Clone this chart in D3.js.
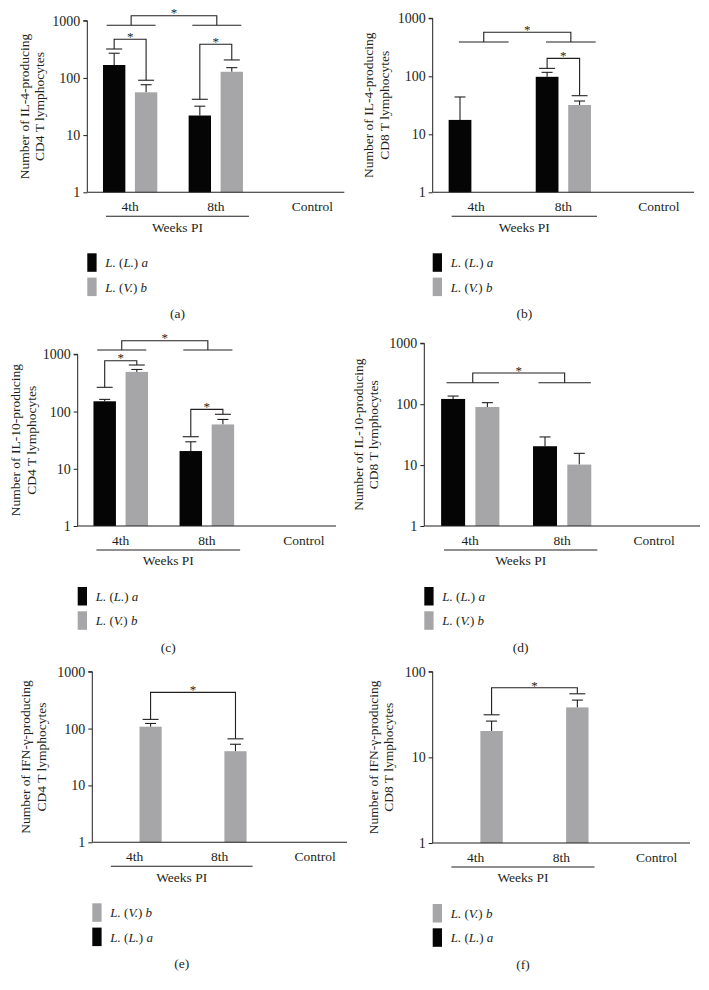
<!DOCTYPE html>
<html><head><meta charset="utf-8">
<script src="https://cdn.jsdelivr.net/npm/d3@7"></script>
<style>
body{margin:0;background:#fff}
svg{display:block}
text{font-family:"Liberation Serif","Times New Roman",serif;fill:#231f20}
</style>
</head><body>
<svg id="chart" width="709" height="990"></svg>
<script>
// ---------- data ----------
const weeks = ["4th", "8th", "Control"];
const seriesKeys = ["La", "Vb"];
const seriesLabels = { La: "L. (L.) a", Vb: "L. (V.) b" };
const ticks3 = [1, 10, 100, 1000];
const ticks2 = [1, 10, 100];

// (a) IL-4 CD4
const aLa = [168, 22, null], aLaErr = [270, 32, null];
const aVb = [56, 128, null], aVbErr = [76, 151, null];
// pair brackets: [week1, series1, level1, week2, series2, level2, topLevel]
const aPairs = [["4th", "La", 320, "4th", "Vb", 91, 473], ["8th", "La", 42.3, "8th", "Vb", 206, 387]];
const aGroup = [832, 1223];

// (b) IL-4 CD8
const bLa = [17.7, 98, null], bLaErr = [44, 117, null];
const bVb = [null, 32, null], bVbErr = [null, 37.5, null];
const bPairs = [["8th", "La", 137, "8th", "Vb", 46.3, 204]];
const bGroup = [390, 574];

// (c) IL-10 CD4
const cLa = [151, 20.4, null], cLaErr = [163, 29.6, null];
const cVb = [493, 59.5, null], cVbErr = [543, 72.8, null];
const cPairs = [["4th", "La", 265, "4th", "Vb", 650, 773], ["8th", "La", 36.3, "8th", "Vb", 89.5, 109]];
const cGroup = [1189, 1730];

// (d) IL-10 CD8
const dLa = [122, 20.4, null], dLaErr = [136, 29, null];
const dVb = [90, 10.2, null], dVbErr = [106, 15.6, null];
const dPairs = [];
const dGroup = [225, 325];

// (e) IFN-γ CD4
const eLa = [null, null, null], eLaErr = [null, null, null];
const eVb = [108, 40, null], eVbErr = [123, 53, null];
const ePairs = [["4th", "Vb", 145, "8th", "Vb", 66, 433]];
const eGroup = null;

// (f) IFN-γ CD8
const fLa = [null, null, null], fLaErr = [null, null, null];
const fVb = [20.3, 38.3, null], fVbErr = [26.5, 46.6, null];
const fPairs = [["4th", "Vb", 31.4, "8th", "Vb", 55.2, 64.9]];
const fGroup = null;

// ---------- layout / style ----------
const colors = { La: "#050505", Vb: "#a6a6a8" };
const ink = "#231f20";
const panels = [
  { cap: "(a)", La: aLa, LaE: aLaErr, Vb: aVb, VbE: aVbErr, pairs: aPairs, group: aGroup, ticks: ticks3,
    ylab: ["Number of IL-4-producing", "CD4 T lymphocytes"], legend: ["La", "Vb"],
    L: { ax: 87.3, top: 20.7, bot: 192.3, xe: 344.3, l1: 24, l2: 39.5, cdx: 11, gdx: 1 } },
  { cap: "(b)", La: bLa, LaE: bLaErr, Vb: bVb, VbE: bVbErr, pairs: bPairs, group: bGroup, ticks: ticks3,
    ylab: ["Number of IL-4-producing", "CD8 T lymphocytes"], legend: ["La", "Vb"],
    L: { ax: 432.7, top: 18.3, bot: 192.3, xe: 694, l1: 368.5, l2: 384, cdx: 8.5, gdx: 7.5 } },
  { cap: "(c)", La: cLa, LaE: cLaErr, Vb: cVb, VbE: cVbErr, pairs: cPairs, group: cGroup, ticks: ticks3,
    ylab: ["Number of IL-10-producing", "CD4 T lymphocytes"], legend: ["La", "Vb"],
    L: { ax: 77.7, top: 354.3, bot: 526, xe: 336, l1: 15.5, l2: 31.5, cdx: 11, gdx: 1 } },
  { cap: "(d)", La: dLa, LaE: dLaErr, Vb: dVb, VbE: dVbErr, pairs: dPairs, group: dGroup, ticks: ticks3,
    ylab: ["Number of IL-10-producing", "CD8 T lymphocytes"], legend: ["La", "Vb"],
    L: { ax: 424.3, top: 343.3, bot: 526, xe: 700, l1: 358.5, l2: 373, cdx: 0, gdx: 2.5 } },
  { cap: "(e)", La: eLa, LaE: eLaErr, Vb: eVb, VbE: eVbErr, pairs: ePairs, group: eGroup, ticks: ticks3,
    ylab: ["Number of IFN-\u03b3-producing", "CD4 T lymphocytes"], legend: ["Vb", "La"],
    L: { ax: 92.3, top: 671.7, bot: 842.3, xe: 347, l1: 25, l2: 41, cdx: 10.5, gdx: 0 } },
  { cap: "(f)", La: fLa, LaE: fLaErr, Vb: fVb, VbE: fVbErr, pairs: fPairs, group: fGroup, ticks: ticks2,
    ylab: ["Number of IFN-\u03b3-producing", "CD8 T lymphocytes"], legend: ["Vb", "La"],
    L: { ax: 432.7, top: 671.7, bot: 843, xe: 690, l1: 373.3, l2: 388.7, cdx: 9.6, gdx: 0 } }
];

const svg = d3.select("#chart");
const FS = 13.5;

function legendText(sel, key) {
  const parts = key === "La"
    ? [["L.", 1], [" (", 0], ["L.", 1], [") ", 0], ["a", 1]]
    : [["L.", 1], [" (", 0], ["V.", 1], [") ", 0], ["b", 1]];
  sel.selectAll("tspan").data(parts).join("tspan")
    .attr("font-style", d => d[1] ? "italic" : "normal")
    .text(d => d[0]);
}

panels.forEach(p => {
  const L = p.L;
  const g = svg.append("g");
  const y = d3.scaleLog().domain([1, p.ticks[p.ticks.length - 1]]).range([L.bot, L.top]);
  const x = d3.scaleBand().domain(weeks).range([L.ax, L.xe]).padding(0);
  const gw = x.bandwidth() * 0.634;
  const xi = d3.scaleBand().domain(seriesKeys).range([0, gw]).paddingInner(0.3);
  const bx = (w, s) => x(w) + (x.bandwidth() - gw) / 2 + xi(s);
  const bc = (w, s) => bx(w, s) + xi.bandwidth() / 2;
  const gc = w => x(w) + x.bandwidth() / 2;

  // bars
  const rows = [];
  seriesKeys.forEach(s => weeks.forEach((w, i) => {
    if (p[s][i] != null) rows.push({ s, w, v: p[s][i], e: p[s + "E"][i] });
  }));
  // error bars (behind bars)
  const eb = g.append("g").attr("stroke", ink).attr("stroke-width", 1.1);
  rows.forEach(r => {
    const cx = bc(r.w, r.s);
    eb.append("line").attr("x1", cx).attr("x2", cx).attr("y1", y(r.v)).attr("y2", y(r.e));
    eb.append("line").attr("x1", cx - 5.5).attr("x2", cx + 5.5).attr("y1", y(r.e)).attr("y2", y(r.e));
  });
  g.append("g").selectAll("rect").data(rows).join("rect")
    .attr("x", d => bx(d.w, d.s)).attr("width", xi.bandwidth())
    .attr("y", d => y(d.v)).attr("height", d => L.bot - y(d.v))
    .attr("fill", d => colors[d.s]);

  // axes
  const ya = d3.axisLeft(y).tickValues(p.ticks).tickFormat(d3.format("d")).tickSize(4).tickPadding(3);
  const yg = g.append("g").attr("transform", `translate(${L.ax},0)`).call(ya);
  yg.select(".domain").attr("stroke", ink).attr("d", `M-4,${L.top}H0V${L.bot}`);
  yg.selectAll(".tick line").attr("stroke", ink);
  yg.selectAll(".tick text").attr("font-size", 14).attr("font-family", '"Liberation Serif",serif').attr("fill", ink);
  g.append("line").attr("x1", L.ax).attr("x2", L.xe).attr("y1", L.bot).attr("y2", L.bot)
    .attr("stroke", ink).attr("stroke-width", 1.1);

  // x labels
  g.append("g").selectAll("text").data(weeks).join("text")
    .attr("x", d => gc(d) + (d === "Control" ? L.cdx : 0))
    .attr("y", L.bot + 14).attr("dy", "0.35em").attr("text-anchor", "middle")
    .attr("font-size", FS).text(d => d);
  const ul0 = x("4th") + (x.bandwidth() - gw) / 2 + 3;
  const ul1 = x("8th") + (x.bandwidth() + gw) / 2 + 6;
  g.append("line").attr("x1", ul0).attr("x2", ul1).attr("y1", L.bot + 24).attr("y2", L.bot + 24)
    .attr("stroke", ink).attr("stroke-width", 1.1);
  g.append("text").attr("x", (ul0 + ul1) / 2).attr("y", L.bot + 34.5).attr("dy", "0.35em")
    .attr("text-anchor", "middle").attr("font-size", FS).text("Weeks PI");

  // y label
  const ymid = (L.top + L.bot) / 2;
  [[p.ylab[0], L.l1], [p.ylab[1], L.l2]].forEach(([t, lx]) => {
    g.append("text").attr("transform", `translate(${lx},${ymid}) rotate(-90)`)
      .attr("text-anchor", "middle").attr("dy", "0.35em").attr("font-size", FS).text(t);
  });

  // significance brackets
  const br = g.append("g").attr("stroke", ink).attr("stroke-width", 1.1).attr("fill", "none");
  p.pairs.forEach(([w1, s1, l1, w2, s2, l2, top]) => {
    const x1 = bc(w1, s1), x2 = bc(w2, s2);
    br.append("path").attr("d", `M${x1},${y(l1)}V${y(top)}H${x2}V${y(l2)}`);
    br.append("line").attr("x1", x1 - 8).attr("x2", x1 + 8).attr("y1", y(l1)).attr("y2", y(l1));
    br.append("line").attr("x1", x2 - 8).attr("x2", x2 + 8).attr("y1", y(l2)).attr("y2", y(l2));
    g.append("text").attr("x", (x1 + x2) / 2).attr("y", y(top) + 1.8).attr("text-anchor", "middle")
      .attr("font-size", 13).text("*");
  });
  if (p.group) {
    const [base, top] = p.group;
    const c1 = gc("4th") + L.gdx, c2 = gc("8th") + L.gdx;
    const hw = gw * 0.45;
    [c1, c2].forEach(c => br.append("line").attr("x1", c - hw).attr("x2", c + hw)
      .attr("y1", y(base)).attr("y2", y(base)));
    br.append("path").attr("d", `M${c1},${y(base)}V${y(top)}H${c2}V${y(base)}`);
    g.append("text").attr("x", (c1 + c2) / 2).attr("y", y(top) + 1.8).attr("text-anchor", "middle")
      .attr("font-size", 13).text("*");
  }

  // legend
  p.legend.forEach((s, i) => {
    const ty = L.bot + 61 + i * 24.3;
    g.append("rect").attr("x", L.ax).attr("y", ty).attr("width", 9.3).attr("height", 18.5).attr("fill", colors[s]);
    g.append("text").attr("x", L.ax + 18).attr("y", ty + 9.5).attr("dy", "0.35em")
      .attr("font-size", 13).call(legendText, s);
  });

  // caption
  g.append("text").attr("x", (ul0 + ul1) / 2).attr("y", L.bot + 121).attr("dy", "0.35em")
    .attr("text-anchor", "middle").attr("font-size", FS).text(p.cap);
});
</script>
</body></html>
